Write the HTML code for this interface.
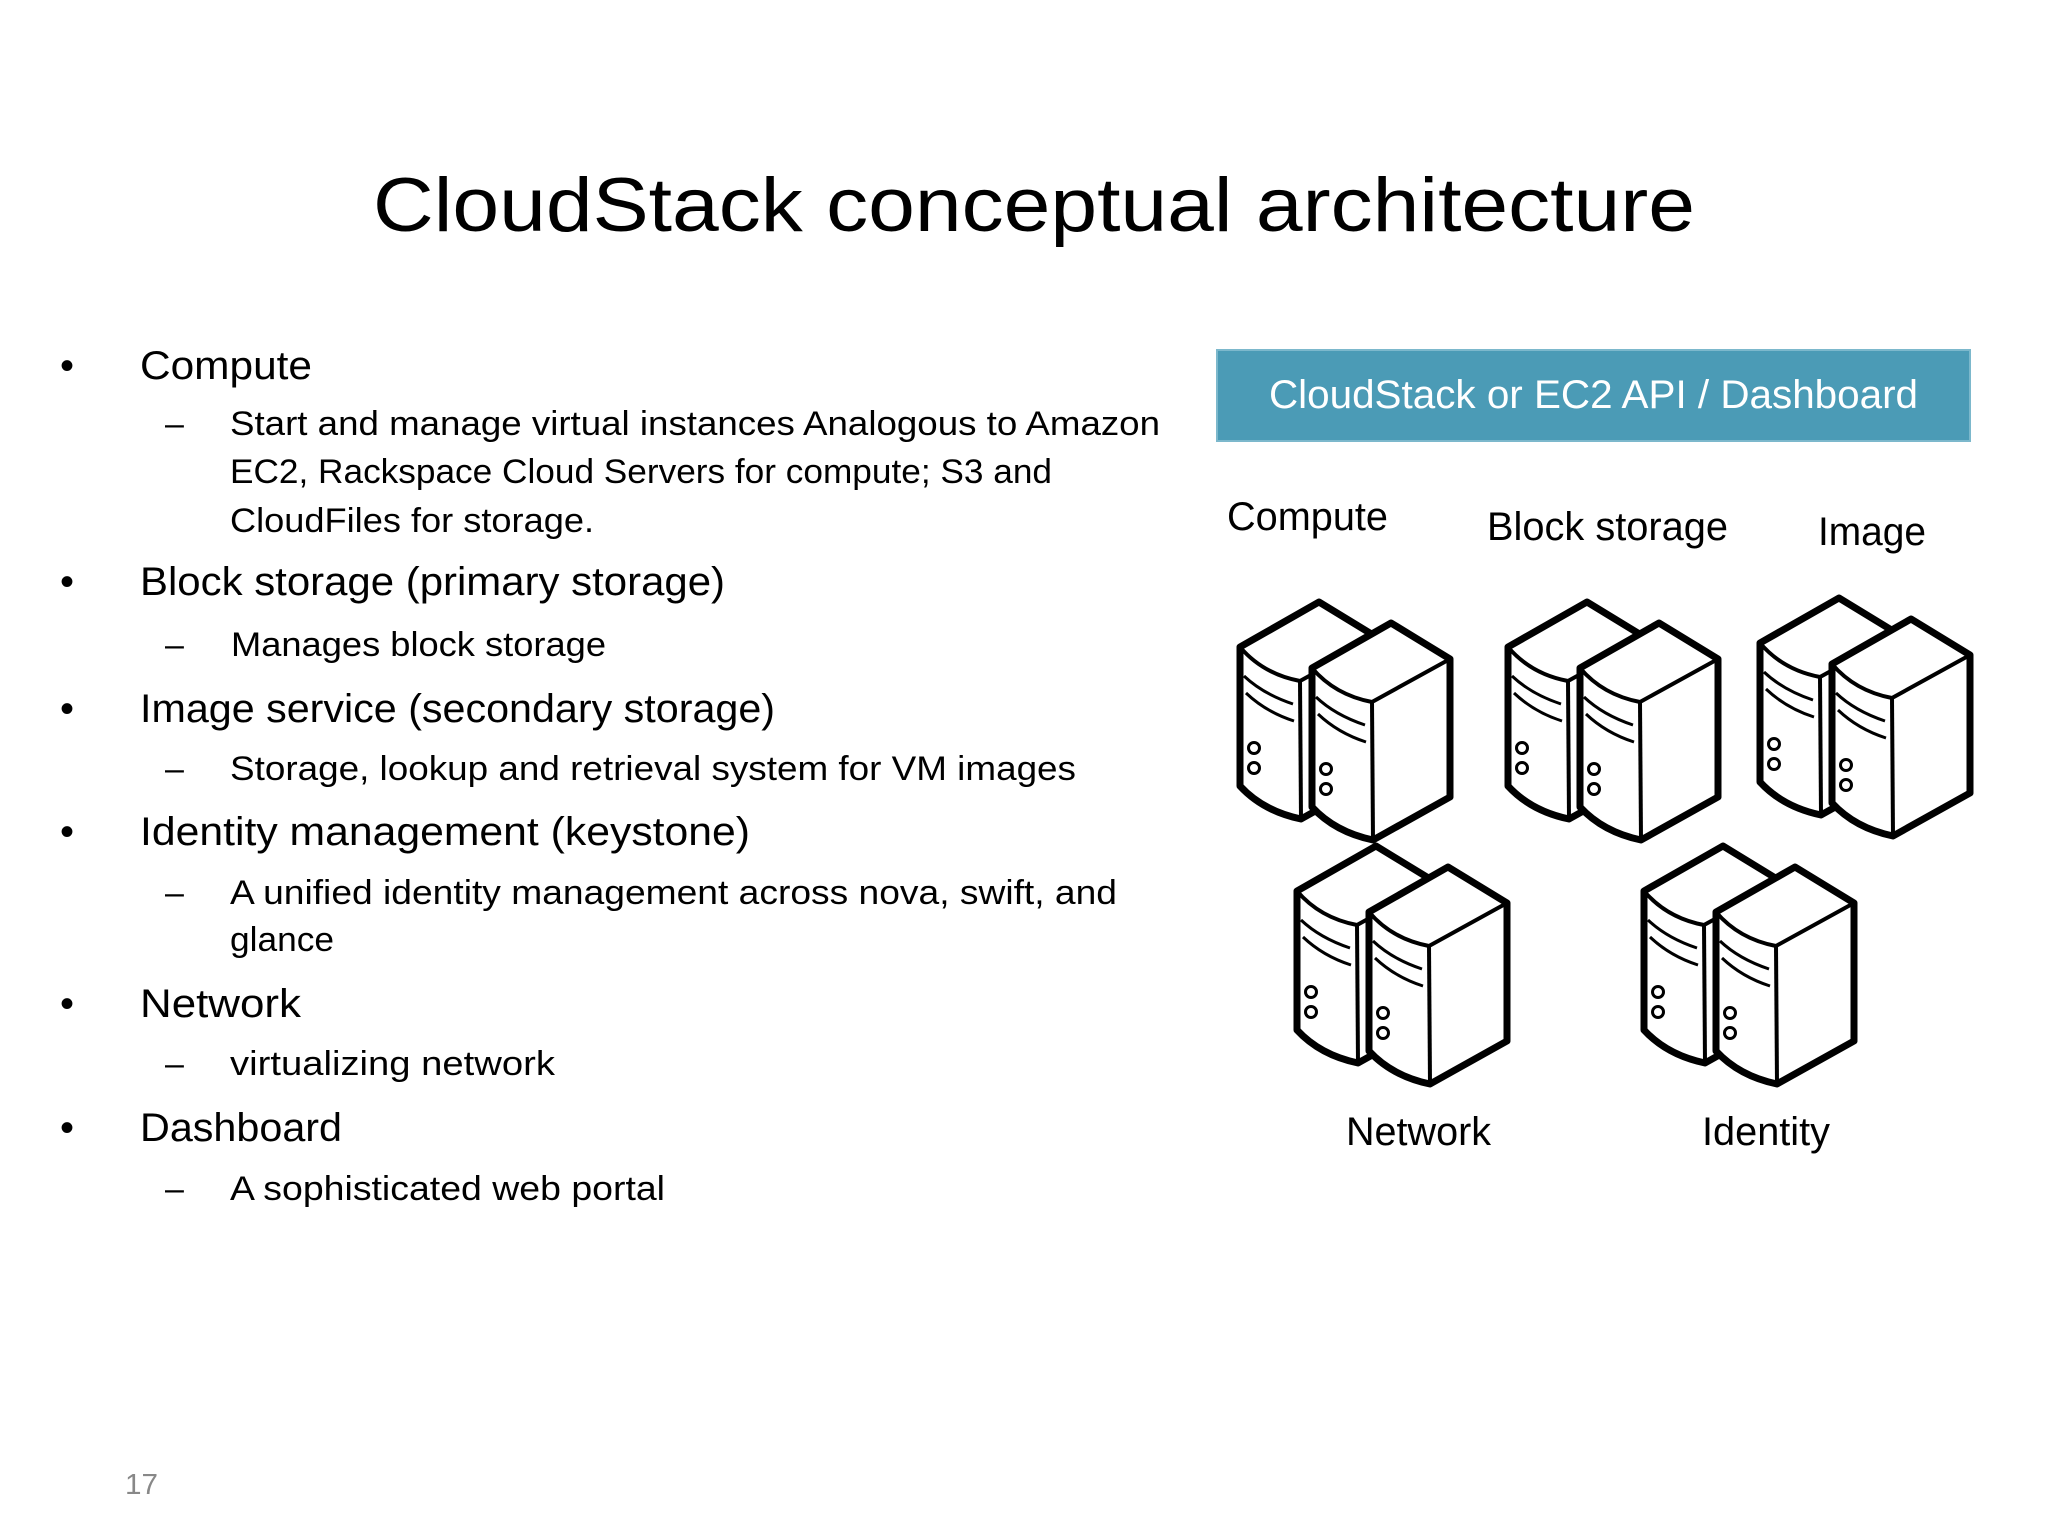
<!DOCTYPE html>
<html><head><meta charset="utf-8"><style>html,body{margin:0;padding:0;background:#fff}svg{display:block}</style></head>
<body>
<svg width="2048" height="1536" viewBox="0 0 2048 1536" xmlns="http://www.w3.org/2000/svg">
<defs>
<g id="tw">
<path d="M151,23 L72,68 L72,207 Q95,232 133,240 L210,197 L210,59 Z" fill="#fff" stroke="#000" stroke-width="7" stroke-linejoin="round"/>
<path d="M72,68 Q95,95 132,102 L210,59" fill="none" stroke="#000" stroke-width="4"/>
<line x1="132" y1="102" x2="133" y2="240" stroke="#000" stroke-width="4"/>
<path d="M76,97 Q95,115 125,125" fill="none" stroke="#000" stroke-width="3"/>
<path d="M78,114 Q98,133 126,142" fill="none" stroke="#000" stroke-width="3"/>
<circle cx="86" cy="169" r="5.5" fill="none" stroke="#000" stroke-width="3"/>
<circle cx="86" cy="189" r="5.5" fill="none" stroke="#000" stroke-width="3"/>
</g>
<g id="srv"><use href="#tw" transform="translate(-72,-21)"/><use href="#tw"/></g>
</defs>
<g font-family="Liberation Sans, sans-serif" fill="#000">
<text x="373" y="231" font-size="76" textLength="1322" lengthAdjust="spacingAndGlyphs">CloudStack conceptual architecture</text>
<g font-size="40">
<text x="60" y="379">•</text><text x="140" y="379" textLength="172" lengthAdjust="spacingAndGlyphs">Compute</text>
<text x="60" y="595">•</text><text x="140" y="595" textLength="585" lengthAdjust="spacingAndGlyphs">Block storage (primary storage)</text>
<text x="60" y="722">•</text><text x="140" y="722" textLength="635" lengthAdjust="spacingAndGlyphs">Image service (secondary storage)</text>
<text x="60" y="845">•</text><text x="140" y="845" textLength="610" lengthAdjust="spacingAndGlyphs">Identity management (keystone)</text>
<text x="60" y="1017">•</text><text x="140" y="1017" textLength="161" lengthAdjust="spacingAndGlyphs">Network</text>
<text x="60" y="1141">•</text><text x="140" y="1141" textLength="202" lengthAdjust="spacingAndGlyphs">Dashboard</text>
</g>
<g font-size="34">
<text x="165" y="435">–</text><text x="230" y="435" textLength="930" lengthAdjust="spacingAndGlyphs">Start and manage virtual instances Analogous to Amazon</text>
<text x="230" y="483" textLength="822" lengthAdjust="spacingAndGlyphs">EC2, Rackspace Cloud Servers for compute; S3 and</text>
<text x="230" y="532" textLength="364" lengthAdjust="spacingAndGlyphs">CloudFiles for storage.</text>
<text x="165" y="656">–</text><text x="231" y="656" textLength="375" lengthAdjust="spacingAndGlyphs">Manages block storage</text>
<text x="165" y="780">–</text><text x="230" y="780" textLength="846" lengthAdjust="spacingAndGlyphs">Storage, lookup and retrieval system for VM images</text>
<text x="165" y="904">–</text><text x="230" y="904" textLength="887" lengthAdjust="spacingAndGlyphs">A unified identity management across nova, swift, and</text>
<text x="230" y="951" textLength="104" lengthAdjust="spacingAndGlyphs">glance</text>
<text x="165" y="1075">–</text><text x="230" y="1075" textLength="325" lengthAdjust="spacingAndGlyphs">virtualizing network</text>
<text x="165" y="1200">–</text><text x="230" y="1200" textLength="435" lengthAdjust="spacingAndGlyphs">A sophisticated web portal</text>
</g>
<text x="125" y="1494" font-size="29" fill="#888" textLength="33" lengthAdjust="spacingAndGlyphs">17</text>
<rect x="1217" y="350" width="753" height="91" fill="#4b9bb6" stroke="#7cb8cc" stroke-width="2"/>
<text x="1269" y="408" font-size="40" fill="#fff" textLength="649" lengthAdjust="spacingAndGlyphs">CloudStack or EC2 API / Dashboard</text>
<g font-size="40">
<text x="1227" y="530" textLength="161" lengthAdjust="spacingAndGlyphs">Compute</text>
<text x="1487" y="540" textLength="241" lengthAdjust="spacingAndGlyphs">Block storage</text>
<text x="1818" y="545" textLength="108" lengthAdjust="spacingAndGlyphs">Image</text>
<text x="1346" y="1145" textLength="145" lengthAdjust="spacingAndGlyphs">Network</text>
<text x="1702" y="1145" textLength="128" lengthAdjust="spacingAndGlyphs">Identity</text>
</g>
</g>
<use href="#srv" transform="translate(1240,600)"/>
<use href="#srv" transform="translate(1508,600)"/>
<use href="#srv" transform="translate(1760,596)"/>
<use href="#srv" transform="translate(1297,844)"/>
<use href="#srv" transform="translate(1644,844)"/>
</svg>
</body></html>
